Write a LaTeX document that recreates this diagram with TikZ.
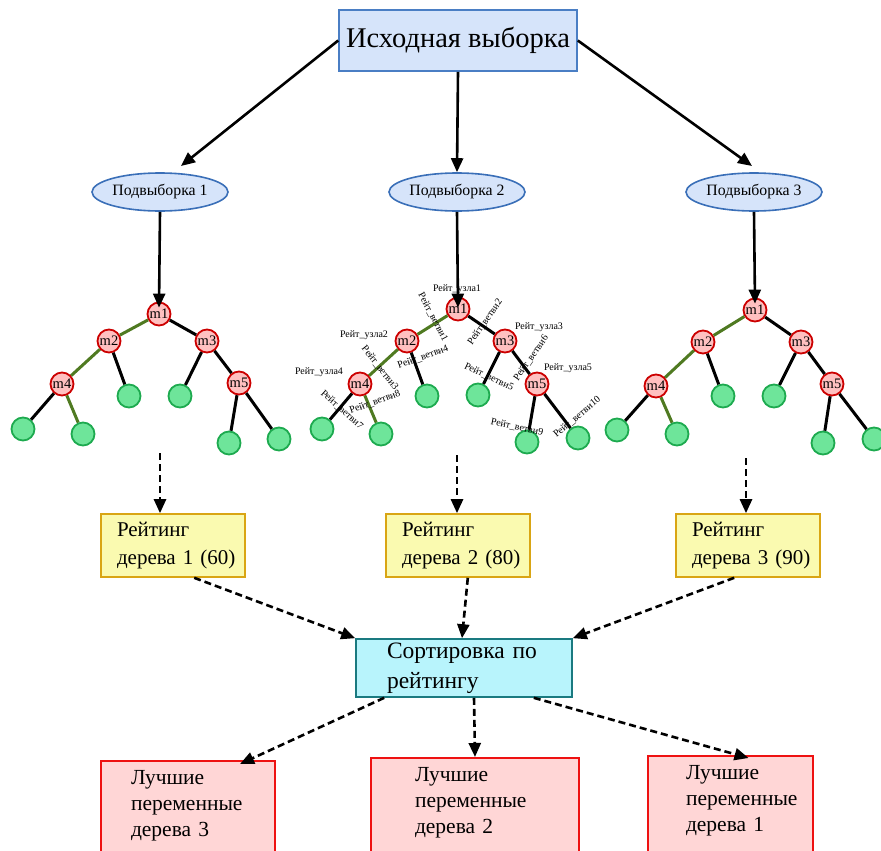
\documentclass[tikz,border=0pt]{standalone}
\usepackage{fontspec}
\setmainfont{Liberation Serif}
\usetikzlibrary{arrows.meta,shapes.geometric}
\definecolor{topfill}{HTML}{D6E4FA}
\definecolor{topdraw}{HTML}{4A7EC4}
\definecolor{ellfill}{HTML}{D6E4FA}
\definecolor{ellborder}{HTML}{3A6FB8}
\definecolor{rfill}{HTML}{FFC0C0}
\definecolor{rdraw}{HTML}{CC0000}
\definecolor{lfill}{HTML}{6EE59A}
\definecolor{ldraw}{HTML}{1DAA4F}
\definecolor{gline}{HTML}{4F7A21}
\definecolor{yfill}{HTML}{FAFAB0}
\definecolor{ydraw}{HTML}{D9A514}
\definecolor{cfill}{HTML}{B8F4FC}
\definecolor{cdraw}{HTML}{1A7A80}
\definecolor{pfill}{HTML}{FFD6D6}
\definecolor{pdraw}{HTML}{EE1111}
\tikzset{
  fs/.style 2 args={font=\fontsize{#1}{#2}\selectfont},
  arr/.style={line width=2.6pt,-{Triangle[length=14pt,width=12pt]}},
  darr/.style={line width=2.6pt,dash pattern=on 7pt off 4pt,-{Triangle[length=14pt,width=12pt]}},
  rnode/.style={circle,draw=rdraw,fill=rfill,line width=1.8pt,minimum size=23pt,inner sep=0pt,fs={14.5}{16}},
  leaf/.style={circle,draw=ldraw,fill=lfill,line width=1.8pt,minimum size=23pt,inner sep=0pt},
  tedge/.style={line width=3pt},
  gedge/.style={line width=3pt,draw=gline},
  sm/.style={inner sep=0pt,fs={10}{12}},
  ellbox/.style={ellipse,draw=ellborder,fill=ellfill,line width=1.6pt,minimum width=136pt,minimum height=38pt,inner sep=0pt,fs={15.8}{18}},
  ratebox/.style={draw=ydraw,fill=yfill,line width=1.6pt,minimum width=144pt,minimum height=63pt,text width=112pt,inner xsep=16pt,align=left,fs={21}{27.5}},
  bestbox/.style={draw=pdraw,fill=pfill,line width=1.6pt,anchor=north,inner ysep=10pt,align=left,fs={21.5}{26}},
}
\begin{document}
\begin{tikzpicture}[x=1pt,y=-1pt]
\useasboundingbox (0,0) rectangle (881,851);
\fill[white] (0,0) rectangle (881,851);
% top
\node[draw=topdraw,fill=topfill,line width=1.6pt,minimum width=238pt,minimum height=61pt,fs={28.5}{32}] (top) at (458,40.5) {Исходная выборка};
% ellipses
\node[ellbox] (s1) at (160,192) {Подвыборка 1};
\node[ellbox] (s2) at (457,192) {Подвыборка 2};
\node[ellbox] (s3) at (754,192) {Подвыборка 3};
\coordinate (e1) at (181,166);
\coordinate (e3) at (752,166);
\draw[arr] (top.west) -- (e1);
\draw[arr] (top.south) -- (s2.north);
\draw[arr] (top.east) -- (e3);
% tree 1
\node[rnode] (a1) at (159,314) {m1};
\node[rnode] (a2) at (109,341) {m2};
\node[rnode] (a3) at (207,341) {m3};
\node[rnode] (a4) at (62,384) {m4};
\node[rnode] (a5) at (239,383) {m5};
\node[leaf] (a6) at (129,396) {};
\node[leaf] (a7) at (180,396) {};
\node[leaf] (a8) at (23,429) {};
\node[leaf] (a9) at (83,434) {};
\node[leaf] (a10) at (229,443) {};
\node[leaf] (a11) at (279,439) {};
\draw[gedge] (a1) -- (a2);
\draw[gedge] (a2) -- (a4);
\draw[gedge] (a4) -- (a9);
\draw[tedge] (a1) -- (a3);
\draw[tedge] (a2) -- (a6);
\draw[tedge] (a3) -- (a7);
\draw[tedge] (a3) -- (a5);
\draw[tedge] (a4) -- (a8);
\draw[tedge] (a5) -- (a10);
\draw[tedge] (a5) -- (a11);
% tree 2
\node[rnode] (b1) at (458,309) {m1};
\node[rnode] (b2) at (407,341) {m2};
\node[rnode] (b3) at (505,341) {m3};
\node[rnode] (b4) at (360,384) {m4};
\node[rnode] (b5) at (537,384) {m5};
\node[leaf] (b6) at (427,396) {};
\node[leaf] (b7) at (478,395) {};
\node[leaf] (b8) at (322,429) {};
\node[leaf] (b9) at (381,434) {};
\node[leaf] (b10) at (527,442) {};
\node[leaf] (b11) at (578,438) {};
\draw[gedge] (b1) -- (b2);
\draw[gedge] (b2) -- (b4);
\draw[gedge] (b4) -- (b9);
\draw[tedge] (b1) -- (b3);
\draw[tedge] (b2) -- (b6);
\draw[tedge] (b3) -- (b7);
\draw[tedge] (b3) -- (b5);
\draw[tedge] (b4) -- (b8);
\draw[tedge] (b5) -- (b10);
\draw[tedge] (b5) -- (b11);
\node[sm] (u1) at (457,289) {Рейт\_узла1};
\node[sm] (u2) at (364,335) {Рейт\_узла2};
\node[sm] (u3) at (539,327) {Рейт\_узла3};
\node[sm] (u4) at (319,372) {Рейт\_узла4};
\node[sm] (u5) at (568,368) {Рейт\_узла5};
\node[sm,rotate=-62] (v1) at (433,317) {Рейт\_ветви1};
\node[sm,rotate=55] (v2) at (485,322) {Рейт\_ветви2};
\node[sm,rotate=-52] (v3) at (380,368) {Рейт\_ветви3};
\node[sm,rotate=20] (v4) at (423,357) {Рейт\_ветви4};
\node[sm,rotate=-25] (v5) at (489,377) {Рейт\_ветви5};
\node[sm,rotate=55] (v6) at (531,358) {Рейт\_ветви6};
\node[sm,rotate=-42] (v7) at (342,410) {Рейт\_ветви7};
\node[sm,rotate=20] (v8) at (375,402) {Рейт\_ветви8};
\node[sm,rotate=-12] (v9) at (517,427) {Рейт\_ветви9};
\node[sm,rotate=40] (v10) at (577,417) {Рейт\_ветви10};
% tree 3
\node[rnode] (c1) at (755,310) {m1};
\node[rnode] (c2) at (703,342) {m2};
\node[rnode] (c3) at (801,342) {m3};
\node[rnode] (c4) at (656,386) {m4};
\node[rnode] (c5) at (832,384) {m5};
\node[leaf] (c6) at (723,396) {};
\node[leaf] (c7) at (774,396) {};
\node[leaf] (c8) at (617,430) {};
\node[leaf] (c9) at (677,434) {};
\node[leaf] (c10) at (823,443) {};
\node[leaf] (c11) at (874,439) {};
\draw[gedge] (c1) -- (c2);
\draw[gedge] (c2) -- (c4);
\draw[gedge] (c4) -- (c9);
\draw[tedge] (c1) -- (c3);
\draw[tedge] (c2) -- (c6);
\draw[tedge] (c3) -- (c7);
\draw[tedge] (c3) -- (c5);
\draw[tedge] (c4) -- (c8);
\draw[tedge] (c5) -- (c10);
\draw[tedge] (c5) -- (c11);
% ellipse to tree
\draw[arr] (s1.south) -- ([yshift=-6pt]a1.north);
\draw[arr] (s2.south) -- ([yshift=-11pt]b1.north);
\draw[arr] (s3.south) -- ([yshift=-6pt]c1.north);
% rating boxes
\node[ratebox] (r1) at (173,545.5) {Рейтинг\\\mbox{дерева 1 (60)}};
\node[ratebox] (r2) at (458,545.5) {Рейтинг\\\mbox{дерева 2 (80)}};
\node[ratebox] (r3) at (748,545.5) {Рейтинг\\\mbox{дерева 3 (90)}};
\coordinate (d1) at (160,453);
\coordinate (d2) at (457,455);
\coordinate (d3) at (746,458);
\draw[darr] (d1) -- (d1 |- r1.north);
\draw[darr] (d2) -- (d2 |- r2.north);
\draw[darr] (d3) -- (d3 |- r3.north);
% sort box
\node[draw=cdraw,fill=cfill,line width=1.6pt,minimum width=216pt,minimum height=58pt,text width=154pt,inner xsep=31pt,align=left,fs={23.5}{30}] (sort) at (464,668) {\mbox{Сортировка по}\\рейтингу};
\draw[darr] ([xshift=94pt]r1.south west) -- (sort.north west);
\draw[darr] ([xshift=-63pt]r2.south east) -- ([xshift=-2pt]sort.north);
\draw[darr] ([xshift=59pt]r3.south west) -- (sort.north east);
% best boxes
\node[bestbox,minimum width=174pt,text width=114pt,inner xsep=30pt] (p3) at (188,760) {Лучшие\\переменные\\\mbox{дерева 3}\\\rule{0pt}{8pt}};
\node[bestbox,minimum width=208pt,text width=120pt,inner xsep=44pt] (p2) at (475,757) {Лучшие\\переменные\\\mbox{дерева 2}\\\rule{0pt}{8pt}};
\node[bestbox,minimum width=165pt,text width=89pt,inner xsep=38pt] (p1) at (730.5,755) {Лучшие\\переменные\\\mbox{дерева 1}\\\rule{0pt}{8pt}};
\draw[darr] ([xshift=29pt]sort.south west) -- ([xshift=52pt,yshift=-4pt]p3.north);
\draw[darr] ([xshift=10pt]sort.south) -- (p2.north);
\draw[darr] ([xshift=-39pt]sort.south east) -- ([xshift=18pt,yshift=-3pt]p1.north);
\end{tikzpicture}
\end{document}
